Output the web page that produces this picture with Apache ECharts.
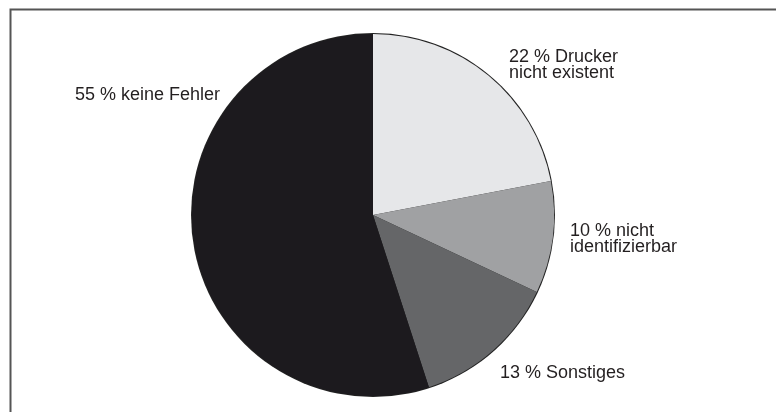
<!DOCTYPE html>
<html>
<head>
<meta charset="utf-8">
<script src="https://cdn.jsdelivr.net/npm/echarts@6/dist/echarts.min.js"></script>
<style>
  html, body { margin: 0; padding: 0; background: #fff; }
  #chart { width: 776px; height: 412px; }
</style>
</head>
<body>
<div id="chart"></div>
<script>
// slice values (percent), clockwise from 12 o'clock
const categories = ["Drucker\nnicht existent", "nicht\nidentifizierbar", "Sonstiges", "keine Fehler"];
const values = [22, 10, 13, 55];
const sliceColors = ["#e6e7e9", "#a0a1a3", "#656668", "#1c1a1e"];

// label anchor (left/middle) for each slice
const labelAnchors = [
  [509, 65],
  [570, 239],
  [500, 373],
  [75, 95]
];

const chart = echarts.init(document.getElementById("chart"));

const option = {
  animation: false,
  backgroundColor: "#fff",
  graphic: [
    {
      type: "polyline",
      shape: { points: [[776, 9.5], [10.5, 9.5], [10.5, 412]] },
      style: { stroke: "#555", lineWidth: 2, fill: null }
    }
  ],
  series: [
    {
      // thin outline around the pie
      type: "pie",
      silent: true,
      center: [373, 215],
      radius: 182,
      label: { show: false },
      labelLine: { show: false },
      itemStyle: { color: "#222" },
      data: [{ value: 1 }]
    },
    {
      type: "pie",
      center: [373, 215],
      radius: 181,
      startAngle: 90,
      clockwise: true,
      silent: true,
      data: values.map((v, i) => ({
        name: categories[i],
        value: v,
        itemStyle: { color: sliceColors[i] }
      })),
      label: {
        show: true,
        position: "outside",
        overflow: "none",
        formatter: (p) => {
          const lines = p.name.split("\n");
          lines[0] = p.value + " % " + lines[0];
          return lines.join("\n");
        },
        color: "#231f20",
        fontFamily: "Liberation Sans, Arial, sans-serif",
        fontSize: 18,
        lineHeight: 16
      },
      labelLine: { show: false },
      labelLayout: (params) => {
        const a = labelAnchors[params.dataIndex];
        return { x: a[0], y: a[1], align: "left", verticalAlign: "middle" };
      }
    }
  ]
};

chart.setOption(option);
</script>
</body>
</html>
